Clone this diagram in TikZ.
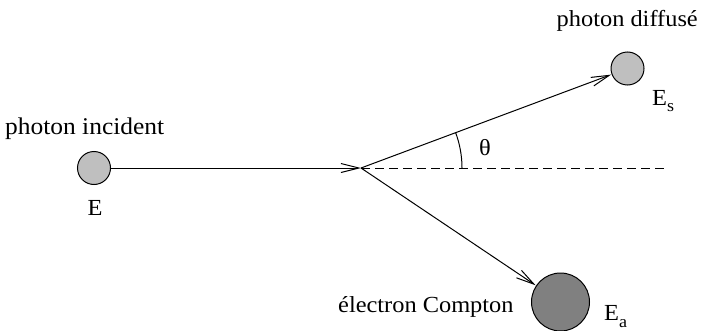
\documentclass[tikz,border=0pt]{standalone}
\usepackage{fontspec}
\setmainfont{Liberation Serif}[FakeStretch=1.06]
\usetikzlibrary{arrows.meta,angles}
\begin{document}
\begin{tikzpicture}[x=1pt,y=1pt,
  lbl/.style={inner sep=0pt,font=\fontsize{23}{27}\selectfont},
  photon/.style={circle,draw,line width=1pt,fill=black!25,minimum size=33pt,inner sep=0pt},
  electron/.style={circle,draw,line width=1pt,fill=black!50,minimum size=58pt,inner sep=0pt},
  ray/.style={line width=1pt,-{Straight Barb[length=18pt,width=9pt,line width=1pt]}},
  ]
\useasboundingbox (0,0) rectangle (703,330);
\node[photon] (inc) at (94,162) {};
\coordinate (V) at (361,162);
\node[photon] (sc) at (627.5,261.5) {};
\node[electron] (el) at (560.5,28) {};
\coordinate (D) at (665,162);
\draw[ray] (inc.east) -- (V);
\draw[ray,shorten >=0.5pt] (V) -- (sc);
\draw[ray,shorten >=0.5pt] (V) -- (el);
\draw[line width=1pt,dash pattern=on 9pt off 5pt] (V) -- (D);
\pic[draw,line width=1pt,angle radius=101pt] {angle=D--V--sc};
\node[lbl,anchor=base west,font=\fontsize{24}{28}\selectfont] (t1) at (5,196) {photon incident};
\node[lbl,anchor=base] (t2) at (95,115) {E};
\node[lbl,anchor=base east] (t3) at (698,303) {photon diffusé};
\node[lbl,anchor=base west] (t4) at (652,225) {E\raisebox{-6pt}{\fontsize{17}{17}\selectfont s}};
\node[lbl] (t5) at (485,182) {θ};
\node[lbl,anchor=base west] (t6) at (338,18) {électron Compton};
\node[lbl,anchor=base west] (t7) at (604,10) {E\raisebox{-7pt}{\fontsize{17}{17}\selectfont a}};
\end{tikzpicture}
\end{document}
